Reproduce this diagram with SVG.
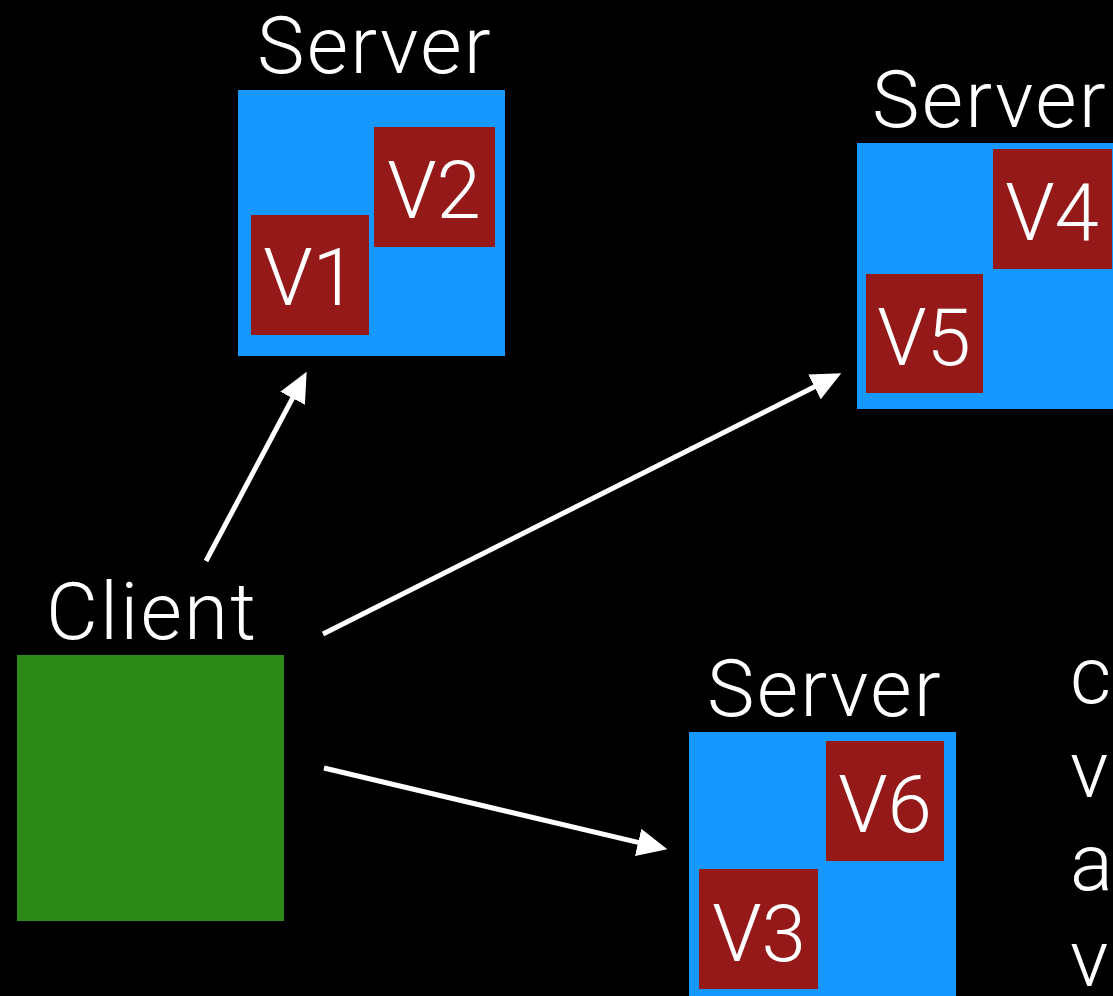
<svg xmlns="http://www.w3.org/2000/svg" width="1113" height="996" viewBox="0 0 1113 996">
<defs>
<style>
.bg{fill:#000}
.server{fill:#1698FF}
.vm{fill:#961919}
.client{fill:#2E8A18}
.label{font-family:Roboto,"Liberation Sans",Arial,sans-serif;font-weight:300;font-size:80px;fill:#fff;text-anchor:middle}
.title{letter-spacing:2.2px}
.side{font-family:Roboto,"Liberation Sans",Arial,sans-serif;font-weight:300;font-size:80px;fill:#fff}
.conn{stroke:#fff;stroke-width:5;fill:none;marker-end:url(#arrow)}
</style>
<marker id="arrow" markerUnits="userSpaceOnUse" markerWidth="30" markerHeight="28" viewBox="0 0 28 26" refX="8" refY="13" orient="auto">
<path d="M0,0 L28,13 L0,26 z" fill="#fff"/>
</marker>
</defs>
<rect class="bg" x="0" y="0" width="1113" height="996"/>

<g id="server1">
<text class="label title" x="375" y="73">Server</text>
<rect class="server" x="238" y="90" width="267" height="266"/>
<rect class="vm" x="251" y="215" width="118" height="120"/>
<text class="label" x="310" y="305">V1</text>
<rect class="vm" x="374" y="127" width="121" height="120"/>
<text class="label" x="434" y="218">V2</text>
</g>

<g id="server2">
<text class="label title" x="990" y="127">Server</text>
<rect class="server" x="857" y="143" width="267" height="266"/>
<rect class="vm" x="993" y="149" width="119" height="120"/>
<text class="label" x="1052" y="240">V4</text>
<rect class="vm" x="866" y="274" width="117" height="119"/>
<text class="label" x="924" y="365">V5</text>
</g>

<g id="server3">
<text class="label title" x="825" y="716">Server</text>
<rect class="server" x="689" y="732" width="267" height="266"/>
<rect class="vm" x="826" y="741" width="118" height="120"/>
<text class="label" x="885" y="832">V6</text>
<rect class="vm" x="699" y="869" width="119" height="120"/>
<text class="label" x="759" y="961">V3</text>
</g>

<g id="client">
<text class="label title" x="152" y="639">Client</text>
<rect class="client" x="17" y="655" width="267" height="266"/>
</g>

<g id="sidetext">
<text class="side" x="1070" y="703">c</text>
<text class="side" x="1070" y="797">v</text>
<text class="side" x="1070" y="890">a</text>
<text class="side" x="1070" y="986">v</text>
</g>

<g id="connectors">
<path class="conn" d="M206,561 L296.6,390.7"/>
<path class="conn" d="M323,634 L822.1,383"/>
<path class="conn" d="M324,768 L646.5,844.4"/>
</g>
</svg>
